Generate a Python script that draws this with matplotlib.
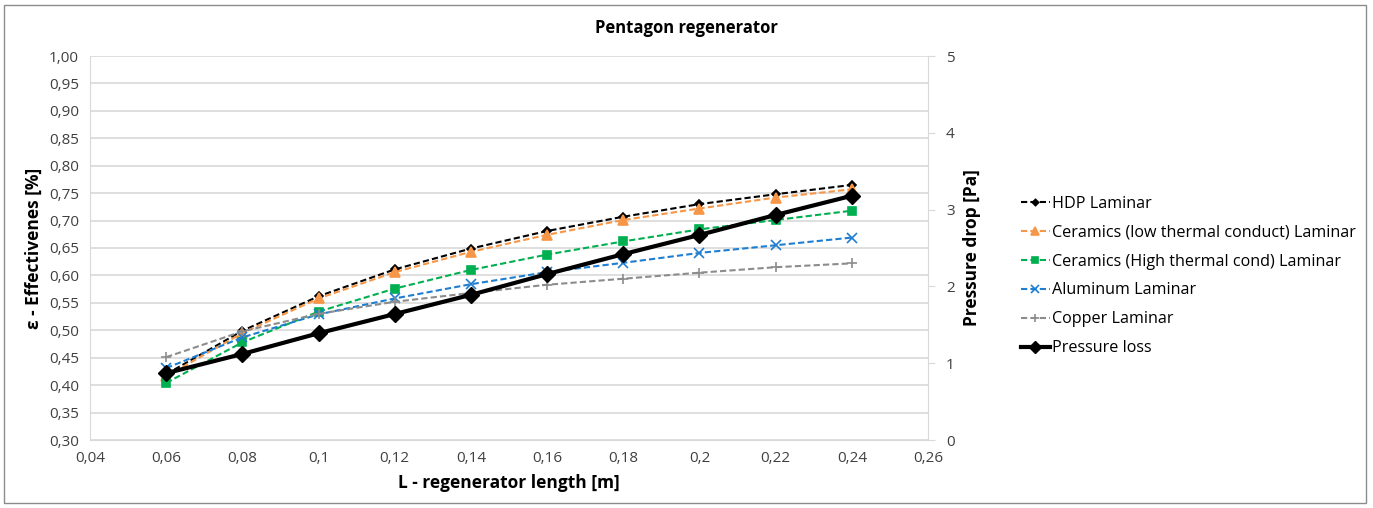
import matplotlib.pyplot as plt
from matplotlib.ticker import FuncFormatter, MultipleLocator

# regenerator length [m]
length = [0.06, 0.08, 0.10, 0.12, 0.14, 0.16, 0.18, 0.20, 0.22, 0.24]

# effectiveness per material
hdp = [0.420, 0.499, 0.562, 0.611, 0.649, 0.681, 0.707, 0.730, 0.748, 0.765]
ceramics_low = [0.416, 0.495, 0.558, 0.606, 0.643, 0.674, 0.701, 0.722, 0.742, 0.757]
ceramics_high = [0.404, 0.478, 0.534, 0.576, 0.610, 0.638, 0.662, 0.684, 0.701, 0.718]
aluminum = [0.431, 0.487, 0.529, 0.558, 0.584, 0.606, 0.623, 0.641, 0.655, 0.669]
copper = [0.451, 0.498, 0.530, 0.552, 0.568, 0.583, 0.594, 0.605, 0.615, 0.622]

# pressure drop [Pa]
pressure = [0.87, 1.12, 1.39, 1.64, 1.89, 2.16, 2.42, 2.67, 2.93, 3.18]

plt.rcParams['font.family'] = ['Open Sans', 'DejaVu Sans']
txt = '#404040'
grid_c = '#d9d9d9'

fig = plt.figure(figsize=(13.73, 5.08), dpi=100)
ax = fig.add_axes([90 / 1373, 68 / 508, 838 / 1373, 384 / 508])
ax2 = ax.twinx()

series = [
    (hdp, 'HDP Laminar', 'black', 'D', 4),
    (ceramics_low, 'Ceramics (low thermal conduct) Laminar', '#f79646', '^', 7),
    (ceramics_high, 'Ceramics (High thermal cond) Laminar', '#00b050', 's', 6),
    (aluminum, 'Aluminum Laminar', '#1f7ed0', 'x', 7),
    (copper, 'Copper Laminar', '#8c8c8c', '+', 7),
]
handles = []
for vals, name, col, mk, ms in series:
    h, = ax.plot(length, vals, ls='--', lw=1.5, color=col, marker=mk, ms=ms,
                 mew=1.2, label=name, dashes=(3, 1.5))
    handles.append(h)

h, = ax2.plot(length, pressure, color='black', lw=3, marker='D', ms=8,
              label='Pressure loss')
handles.append(h)

ax.set_xlim(0.04, 0.26)
ax.set_ylim(0.30, 1.00)
ax2.set_ylim(0, 5)
ax.xaxis.set_major_locator(MultipleLocator(0.02))
ax.yaxis.set_major_locator(MultipleLocator(0.05))
ax2.yaxis.set_major_locator(MultipleLocator(1))
ax.xaxis.set_major_formatter(FuncFormatter(lambda v, p: ('%g' % round(v, 2)).replace('.', ',')))
ax.yaxis.set_major_formatter(FuncFormatter(lambda v, p: ('%.2f' % v).replace('.', ',')))

ax.grid(axis='y', color=grid_c, lw=1.2)
ax.set_axisbelow(True)
for a in (ax, ax2):
    for s in ('top', 'left', 'right', 'bottom'):
        a.spines[s].set_visible(False)
ax.spines['left'].set_visible(True)
ax.spines['left'].set_color(grid_c)
ax.spines['bottom'].set_visible(True)
ax.spines['bottom'].set_color(grid_c)
ax2.spines['right'].set_visible(True)
ax2.spines['right'].set_color(grid_c)

ax.tick_params(axis='both', length=0, labelsize=11, colors=txt, pad=8)
ax2.tick_params(axis='y', length=5, color=grid_c, labelsize=11, labelcolor=txt, pad=8)

ax.set_xlabel('L - regenerator length [m]', fontsize=12.5, fontweight='bold', color='black', labelpad=6)
ax.set_ylabel('ε - Effectivenes [%]', fontsize=12.5, fontweight='bold', color='black', labelpad=4)
ax2.set_ylabel('Pressure drop [Pa]', fontsize=12.5, fontweight='bold', color='black', labelpad=6)
fig.text(686 / 1373, 1 - 28 / 508, 'Pentagon regenerator', ha='center', va='center',
         fontsize=12, fontweight='bold')

fig.legend(handles=handles, loc='center left', bbox_to_anchor=(1006 / 1373, 1 - 276 / 508),
           frameon=False, fontsize=11.6, handlelength=1.8, handletextpad=0.15,
           labelspacing=0.8, markerscale=0.8)

# outer chart border
fig.patches.append(plt.Rectangle((4 / 1373, 5 / 508), 1362 / 1373, 498 / 508,
                                 transform=fig.transFigure, fill=False,
                                 edgecolor='#8c8c8c', lw=1))

fig.savefig('out.png', dpi=100)
